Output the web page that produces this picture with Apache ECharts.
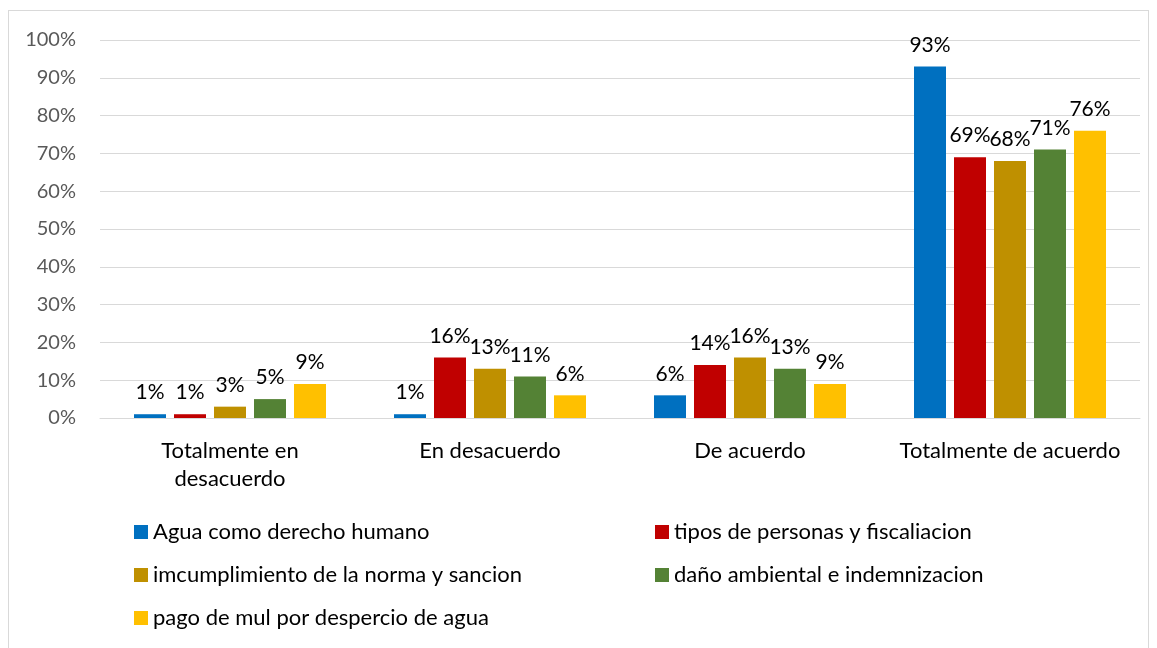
<!DOCTYPE html>
<html>
<head>
<meta charset="utf-8">
<script src="https://cdn.jsdelivr.net/npm/echarts@6/dist/echarts.min.js"></script>
<style>
  html, body { margin: 0; padding: 0; background: #fff; }
  #frame { position: absolute; left: 8px; top: 10px; width: 1141px; height: 640px; border: 1px solid #d9d9d9; box-sizing: border-box; }
  #chart { position: absolute; left: 0; top: 0; width: 1157px; height: 648px; }
</style>
</head>
<body>
<div id="frame"></div>
<div id="chart"></div>
<script>
const categories = ['Totalmente en\ndesacuerdo', 'En desacuerdo', 'De acuerdo', 'Totalmente de acuerdo'];
const seriesNames = [
  'Agua como derecho humano',
  'tipos de personas y fiscaliacion',
  'imcumplimiento de la norma y sancion',
  'daño ambiental e indemnizacion',
  'pago de mul por despercio de agua'
];
const agua = [1, 1, 6, 93];
const tipos = [1, 16, 14, 69];
const incumplimiento = [3, 13, 16, 68];
const dano = [5, 11, 13, 71];
const pago = [9, 6, 9, 76];
const colors = ['#0070C0', '#C00000', '#BF9000', '#548235', '#FFC000'];

const font = 'Lato, "Noto Sans", sans-serif';
const values = [agua, tipos, incumplimiento, dano, pago];

const chart = echarts.init(document.getElementById('chart'));

// one bar series per statement
const series = values.map((data, i) => ({
  name: seriesNames[i],
  type: 'bar',
  data: data,
  barWidth: 32,
  barGap: '25%',
  itemStyle: { color: colors[i] },
  label: {
    show: true,
    position: 'top',
    distance: 11,
    formatter: '{c}%',
    color: '#000',
    fontSize: 21,
    fontFamily: font
  }
}));

const legendBase = {
  orient: 'vertical',
  icon: 'rect',
  itemWidth: 14,
  itemHeight: 14,
  itemGap: 21,
  textStyle: { color: '#000', fontSize: 22, lineHeight: 20, fontFamily: font }
};

chart.setOption({
  animation: false,
  color: colors,
  grid: { left: 100, right: 17, top: 40, bottom: 230 },
  legend: [
    Object.assign({ left: 129, top: 516, data: [seriesNames[0], seriesNames[2], seriesNames[4]] }, legendBase),
    Object.assign({ left: 650, top: 516, data: [seriesNames[1], seriesNames[3]] }, legendBase)
  ],
  xAxis: {
    type: 'category',
    data: categories,
    axisLine: { lineStyle: { color: '#d9d9d9', width: 1 } },
    axisTick: { show: false },
    axisLabel: { interval: 0, color: '#000', fontSize: 22, fontFamily: font, margin: 19, lineHeight: 28 }
  },
  yAxis: {
    type: 'value',
    min: 0,
    max: 100,
    interval: 10,
    axisLine: { show: false },
    axisTick: { show: false },
    splitLine: { lineStyle: { color: '#d9d9d9', width: 1 } },
    axisLabel: { formatter: '{value}%', color: '#595959', fontSize: 20, fontFamily: font, margin: 24 }
  },
  series: series
});
</script>
</body>
</html>
